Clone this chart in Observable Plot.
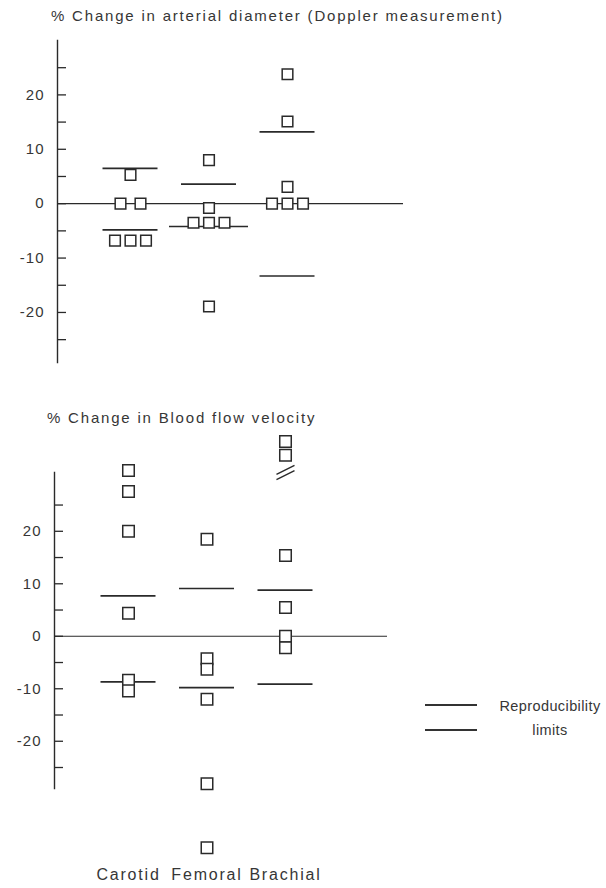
<!DOCTYPE html>
<html>
<head>
<meta charset="utf-8">
<script src="https://cdn.jsdelivr.net/npm/d3@7"></script>
<script src="https://cdn.jsdelivr.net/npm/@observablehq/plot@0.6"></script>
<style>
  html, body { margin: 0; padding: 0; background: #fff; }
  #page { position: relative; width: 606px; height: 888px; background: #fff; overflow: hidden;
          font-family: "Liberation Sans", Arial, sans-serif; color: #363636; }
  .abs { position: absolute; white-space: nowrap; }
  .title { font-size: 15px; letter-spacing: 1.8px; line-height: 18px; }
  .legline { position: absolute; height: 1.6px; background: #333; }
  .legtext { font-size: 14.5px; letter-spacing: 0.4px; line-height: 18px; text-align: center; width: 120px; }
  svg text { letter-spacing: 1px; }
  svg .catlabel text, svg text.catlabel { letter-spacing: 1.8px; }
</style>
</head>
<body>
<div id="page">
  <div class="abs title" style="left:51px;top:7px">% Change in arterial diameter (Doppler measurement)</div>
  <div class="abs title" style="left:47px;top:409px">% Change in Blood flow velocity</div>
  <div id="top" class="abs" style="left:0;top:0"></div>
  <div id="bottom" class="abs" style="left:0;top:400px"></div>
  <div class="legline" style="left:425px;top:704px;width:52px"></div>
  <div class="legline" style="left:425px;top:729px;width:52px"></div>
  <div class="abs legtext" style="left:490px;top:697px">Reproducibility</div>
  <div class="abs legtext" style="left:490px;top:721px">limits</div>
</div>
<script>
// ---------- data ----------
const cats = ["Carotid", "Femoral", "Brachial"];
const yTickLabels = [-20, -10, 0, 10, 20];
const yTickMarks = [-25, -20, -15, -10, -5, 0, 5, 10, 15, 20, 25];

// % change in arterial diameter (Doppler measurement)
const diamCat = ["Carotid", "Carotid", "Carotid", "Carotid", "Carotid", "Carotid",
                 "Femoral", "Femoral", "Femoral", "Femoral", "Femoral", "Femoral",
                 "Brachial", "Brachial", "Brachial", "Brachial", "Brachial", "Brachial"];
const diamValue = [5.3, 0, 0, -6.8, -6.8, -6.8,
                   8.0, -0.8, -3.5, -3.5, -3.5, -18.9,
                   23.8, 15.1, 3.1, 0, 0, 0];
// reproducibility limits (upper, lower) per artery
const diamLimitCat = ["Carotid", "Carotid", "Femoral", "Femoral", "Brachial", "Brachial"];
const diamLimitValue = [6.5, -4.8, 3.6, -4.2, 13.2, -13.3];

// % change in blood flow velocity
const veloCat = ["Carotid", "Carotid", "Carotid", "Carotid", "Carotid", "Carotid",
                 "Femoral", "Femoral", "Femoral", "Femoral", "Femoral", "Femoral",
                 "Brachial", "Brachial", "Brachial", "Brachial", "Brachial", "Brachial"];
const veloValue = [31.6, 27.6, 20.0, 4.4, -8.4, -10.4,
                   18.5, -4.3, -6.3, -12.0, -28.1, -40.3,
                   37.1, 34.5, 15.4, 5.5, 0, -2.2];
const veloLimitCat = ["Carotid", "Carotid", "Femoral", "Femoral", "Brachial", "Brachial"];
const veloLimitValue = [7.7, -8.7, 9.1, -9.8, 8.8, -9.1];
// axis break (values above are off-scale)
const veloBreakCat = ["Brachial"];
const veloBreakValue = [31.2];

// ---------- drawing ----------
const INK = "#2a2a2a";
function panel(opts) {
  const {cat, value, limCat, limValue, brCat = [], brValue = [], yDomain, xRange,
         marginLeft, marginRight, marginTop, marginBottom, height, r, showCats} = opts;
  const width = 606;
  const colPx = (xRange[1] - xRange[0]) / 2;
  const idx = c => cats.indexOf(c);
  // side-by-side placement of tied values
  const groups = d3.group(value.map((v, i) => ({cat: cat[i], value: v})), d => d.cat + "|" + d.value);
  const pts = [];
  const rows = [];
  for (const g of groups.values()) {
    const n = g.length;
    const step = n === 2 ? 20 : 15.5;
    g.forEach((d, j) => pts.push({...d, x: idx(d.cat) + ((j - (n - 1) / 2) * step) / colPx}));
    if (n > 1) rows.push({cat: g[0].cat, value: g[0].value, half: ((n - 1) / 2) * step + r});
  }
  const lims = limValue.map((v, i) => {
    let half = 27.5;
    for (const row of rows) if (row.cat === limCat[i] && Math.abs(row.value - v) <= 1) half = Math.max(half, row.half + 18);
    return {cat: limCat[i], value: v, x1: idx(limCat[i]) - half / colPx, x2: idx(limCat[i]) + half / colPx};
  });
  const breaks = [];
  brValue.forEach((v, i) => {
    for (const o of [-0.5, 0.5]) breaks.push({x1: idx(brCat[i]) - 0.115, x2: idx(brCat[i]) + 0.115, y1: v + o - 0.85, y2: v + o + 0.85});
  });
  const frameW = width - marginLeft - marginRight;
  const marks = [
    Plot.ruleY(yTickMarks, {stroke: INK, strokeWidth: 1.3, insetRight: frameW - 9}),
    Plot.frame({anchor: "left", stroke: INK, strokeWidth: 1.4}),
    Plot.ruleY([0], {stroke: INK, strokeWidth: 1.2}),
    Plot.ruleY(lims, {y: "value", x1: "x1", x2: "x2", stroke: INK, strokeWidth: 1.7}),
    Plot.axisY(yTickLabels, {tickSize: 0, tickPadding: 13, tickFormat: d => String(d), fontSize: 15, fill: "#363636"}),
    Plot.dot(pts, {x: "x", y: "value", symbol: "square", r, fill: "white", stroke: INK, strokeWidth: 1.5}),
    Plot.link(breaks, {x1: "x1", x2: "x2", y1: "y1", y2: "y2", stroke: INK, strokeWidth: 1.4})
  ];
  if (showCats) marks.push(Plot.text(cats, {x: (d, i) => i, frameAnchor: "bottom", dy: 91, fontSize: 16, fill: "#363636", className: "catlabel"}));
  return Plot.plot({
    width, height, marginLeft, marginRight, marginTop, marginBottom,
    x: {domain: [0, 2], range: xRange, axis: null},
    y: {domain: yDomain, axis: null},
    style: {fontFamily: "'Liberation Sans', Arial, sans-serif", background: "transparent", overflow: "visible", color: "#363636"},
    marks
  });
}

document.getElementById("top").append(panel({
  cat: diamCat, value: diamValue, limCat: diamLimitCat, limValue: diamLimitValue,
  yDomain: [-29.2, 30], xRange: [130, 287],
  marginLeft: 57, marginRight: 203, marginTop: 40, marginBottom: 18, height: 380, r: 6, showCats: false
}));
document.getElementById("bottom").append(panel({
  cat: veloCat, value: veloValue, limCat: veloLimitCat, limValue: veloLimitValue,
  brCat: veloBreakCat, brValue: veloBreakValue,
  yDomain: [-29, 31.2], xRange: [128, 285],
  marginLeft: 54, marginRight: 219, marginTop: 72, marginBottom: 100, height: 488, r: 6.5, showCats: true
}));
</script>
</body>
</html>
